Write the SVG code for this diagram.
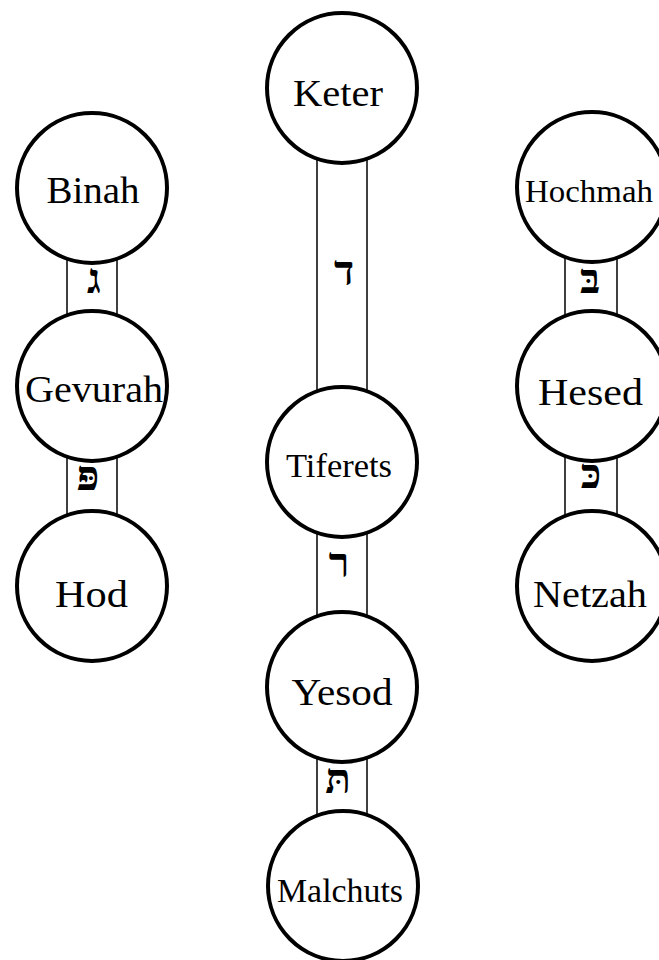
<svg xmlns="http://www.w3.org/2000/svg" width="659" height="960" viewBox="0 0 659 960">
<style>
.node{fill:#fff;stroke:#000;stroke-width:4}
.lbl{font-family:"Liberation Serif","Times New Roman",serif;font-size:38px;fill:#000;text-anchor:middle}
.conn{stroke:#000;stroke-width:1.5;fill:none}
.heb{font-family:"Liberation Serif","DejaVu Sans",serif;font-size:42px;font-weight:bold;fill:#000;text-anchor:middle}
</style>
<rect width="659" height="960" fill="#fff"/>
<g id="connectors">
<g id="c-binah-gevurah"><line class="conn" x1="67" y1="188" x2="67" y2="386"/><line class="conn" x1="117" y1="188" x2="117" y2="386"/><text class="heb" x="94" y="293">ג</text></g>
<g id="c-gevurah-hod"><line class="conn" x1="67" y1="386" x2="67" y2="586"/><line class="conn" x1="117" y1="386" x2="117" y2="586"/><text class="heb" x="88" y="490">פּ</text></g>
<g id="c-keter-tiferet"><line class="conn" x1="317" y1="88" x2="317" y2="462"/><line class="conn" x1="367" y1="88" x2="367" y2="462"/><text class="heb" x="344" y="285">ד</text></g>
<g id="c-tiferet-yesod"><line class="conn" x1="317" y1="462" x2="317" y2="687"/><line class="conn" x1="367" y1="462" x2="367" y2="687"/><text class="heb" x="339" y="577">ר</text></g>
<g id="c-yesod-malchut"><line class="conn" x1="317" y1="687" x2="317" y2="886"/><line class="conn" x1="367" y1="687" x2="367" y2="886"/><text class="heb" x="338" y="793">תּ</text></g>
<g id="c-hochmah-hesed"><line class="conn" x1="565" y1="188" x2="565" y2="386"/><line class="conn" x1="617" y1="188" x2="617" y2="386"/><text class="heb" x="590" y="293">בּ</text></g>
<g id="c-hesed-netzah"><line class="conn" x1="565" y1="386" x2="565" y2="586"/><line class="conn" x1="617" y1="386" x2="617" y2="586"/><text class="heb" x="591" y="488">כּ</text></g>
</g>
<g id="keter"><circle class="node" cx="342" cy="88" r="75"/><text class="lbl" x="338" y="105.5" textLength="90" lengthAdjust="spacingAndGlyphs">Keter</text></g>
<g id="binah"><circle class="node" cx="92" cy="188" r="75"/><text class="lbl" x="93" y="203" textLength="93" lengthAdjust="spacingAndGlyphs">Binah</text></g>
<g id="hochmah"><circle class="node" cx="592" cy="187" r="75"/><text class="lbl" x="589" y="201.5" style="font-size:31px" textLength="128" lengthAdjust="spacingAndGlyphs">Hochmah</text></g>
<g id="gevurah"><circle class="node" cx="92" cy="386" r="75"/><text class="lbl" x="94" y="401.5" textLength="138" lengthAdjust="spacingAndGlyphs">Gevurah</text></g>
<g id="hesed"><circle class="node" cx="592" cy="386" r="75"/><text class="lbl" x="590.5" y="405" textLength="105" lengthAdjust="spacingAndGlyphs">Hesed</text></g>
<g id="tiferet"><circle class="node" cx="342" cy="462" r="75"/><text class="lbl" x="339" y="476.5" style="font-size:33px" textLength="106" lengthAdjust="spacingAndGlyphs">Tiferets</text></g>
<g id="hod"><circle class="node" cx="92" cy="586" r="75"/><text class="lbl" x="91.5" y="606.5" textLength="73" lengthAdjust="spacingAndGlyphs">Hod</text></g>
<g id="netzah"><circle class="node" cx="592" cy="586" r="75"/><text class="lbl" x="590" y="606.5" textLength="114" lengthAdjust="spacingAndGlyphs">Netzah</text></g>
<g id="yesod"><circle class="node" cx="342" cy="687" r="75"/><text class="lbl" x="342" y="705" textLength="101" lengthAdjust="spacingAndGlyphs">Yesod</text></g>
<g id="malchut"><circle class="node" cx="343" cy="886" r="75"/><text class="lbl" x="340" y="901.5" style="font-size:34px" textLength="126" lengthAdjust="spacingAndGlyphs">Malchuts</text></g>
</svg>
